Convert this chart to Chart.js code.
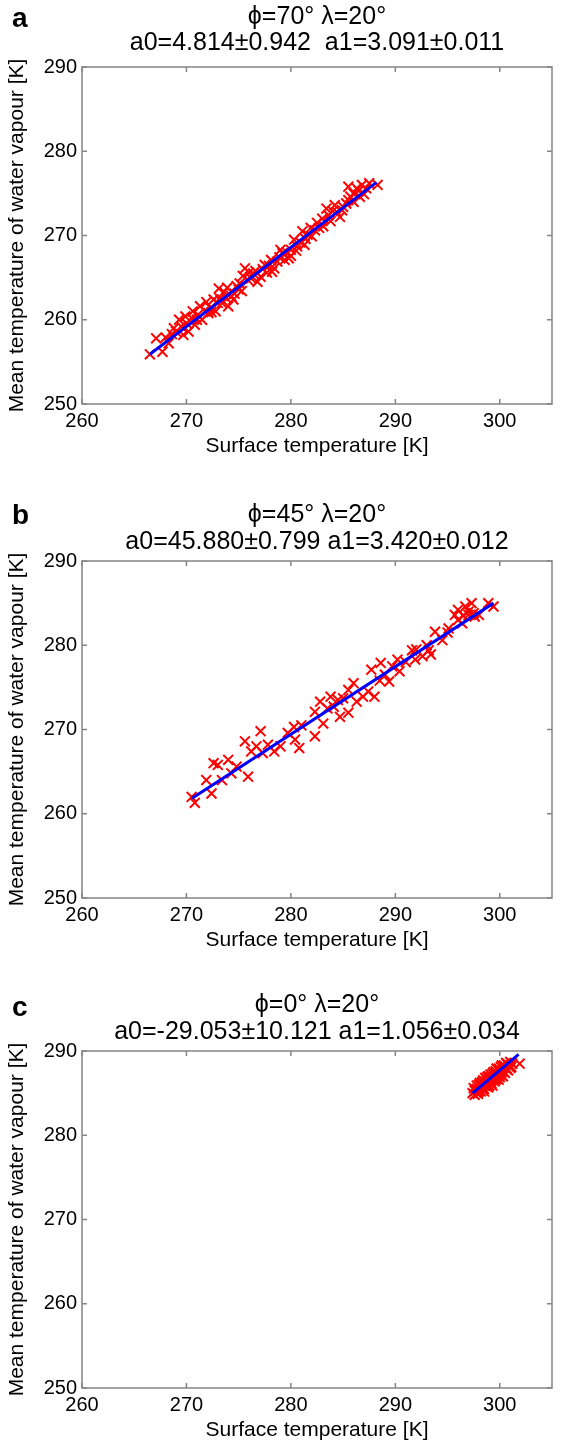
<!DOCTYPE html>
<html>
<head>
<meta charset="utf-8">
<script src="https://cdn.jsdelivr.net/npm/chart.js@4.4.1/dist/chart.umd.min.js"></script>
<style>
body { margin: 0; background: #fff; width: 561px; height: 1445px; position: relative; overflow: hidden; font-family: "Liberation Sans", Arial, sans-serif; }
.panel { position: absolute; left: 0; width: 561px; height: 459px; }
.tag { position: absolute; left: 12px; font-weight: bold; font-size: 28px; line-height: 1; color: #000; }
</style>
</head>
<body>
<div class="panel" style="top:0px"><canvas id="ca" width="561" height="459"></canvas><div class="tag" style="top:4px">a</div></div>
<div class="panel" style="top:494px"><canvas id="cb" width="561" height="459"></canvas><div class="tag" style="top:7px">b</div></div>
<div class="panel" style="top:984px"><canvas id="cc" width="561" height="459"></canvas><div class="tag" style="top:9px">c</div></div>
<script>
// axis setup shared by the three panels
const xTicks = [260, 270, 280, 290, 300];
const yTicks = [250, 260, 270, 280, 290];
const xTitle = 'Surface temperature [K]';
const yTitle = 'Mean temperature of water vapour [K]';

// panel a: phi=70
const aTitle = ['ϕ=70° λ=20°', 'a0=4.814±0.942  a1=3.091±0.011'];
const aSurf = [266.5, 267.1, 267.7, 268.3, 268.8, 269.0, 269.3, 269.7, 269.9, 270.2, 270.5, 270.8, 271.0, 271.3, 271.5, 271.8,
  272.1, 272.3, 272.6, 272.8, 273.1, 273.2, 273.4, 273.6, 273.8, 274.0, 274.3, 274.6, 274.8, 275.1, 275.3, 275.6,
  275.9, 276.0, 276.4, 276.6, 276.8, 277.1, 277.5, 277.7, 278.1, 278.4, 278.7, 279.0, 279.4, 279.6, 280.0, 280.0,
  280.3, 280.6, 280.9, 281.1, 281.3, 281.6, 282.0, 282.3, 282.5, 283.0, 283.1, 283.4, 283.8, 284.0, 284.4, 284.7,
  285.0, 285.3, 285.5, 285.5, 286.0, 286.0, 286.3, 286.6, 286.8, 287.0, 287.2, 288.3,
  268.0, 268.6, 269.5, 270.0, 270.6, 271.1, 271.9, 272.4, 273.0, 273.9, 274.5, 275.0, 275.4, 276.2, 277.3, 277.9,
  278.2, 278.9, 279.2, 279.8, 280.5, 281.4, 281.9, 282.7, 283.6, 284.2, 284.9, 285.7, 286.5, 287.5];
const aMean = [255.9, 257.8, 256.2, 257.2, 259.0, 258.6, 260.0, 258.2, 260.4, 258.6, 260.2, 259.4, 260.0, 261.6, 260.0, 261.0,
  260.8, 261.4, 262.4, 261.0, 263.7, 262.5, 262.0, 263.3, 262.6, 261.6, 262.8, 263.1, 264.0, 264.3, 263.4, 266.1,
  264.7, 265.6, 265.5, 265.8, 264.5, 265.1, 266.5, 265.6, 267.1, 266.1, 266.9, 268.3, 267.1, 268.0, 268.3, 267.6,
  269.5, 268.7, 269.2, 270.5, 268.9, 270.1, 269.9, 270.6, 271.5, 272.0, 271.1, 273.2, 271.7, 272.9, 272.8, 272.2,
  273.4, 273.8, 275.8, 274.2, 275.0, 274.0, 275.6, 274.6, 276.0, 274.9, 275.6, 276.0,
  257.9, 258.3, 259.2, 259.6, 261.0, 260.6, 262.1, 260.9, 262.0, 263.8, 262.4, 263.6, 265.2, 264.9, 266.0, 266.4,
  265.7, 267.4, 267.9, 267.3, 268.2, 269.6, 270.9, 270.9, 272.4, 273.6, 273.0, 274.6, 275.3, 276.2];
const aFitX = [266.5, 288.2];
const aFitY = [255.9, 276.3];

// panel b: phi=45
const bTitle = ['ϕ=45° λ=20°', 'a0=45.880±0.799 a1=3.420±0.012'];
const bSurf = [270.5, 270.8, 271.9, 272.4, 272.6, 273.0, 273.4, 274.0, 274.3, 274.8, 275.6, 275.9, 276.2, 276.7, 277.1, 277.3,
  277.8, 278.4, 279.0, 279.7, 280.3, 280.4, 280.8, 281.0, 282.3, 282.3, 282.8, 283.1, 283.5, 283.8, 284.1, 284.5,
  284.7, 285.0, 285.5, 285.5, 286.0, 286.3, 286.9, 287.4, 287.7, 288.0, 288.5, 288.6, 289.0, 289.4, 289.7, 290.2,
  290.4, 291.0, 291.6, 291.9, 292.0, 292.6, 293.0, 293.2, 293.4, 293.8, 294.5, 295.0, 295.1, 295.7, 296.0, 296.0,
  296.4, 296.5, 296.7, 297.0, 297.0, 297.3, 297.5, 297.6, 298.0, 298.9, 299.4];
const bMean = [262.0, 261.3, 264.0, 262.4, 266.0, 265.8, 264.0, 266.4, 264.8, 265.6, 268.6, 264.4, 267.4, 268.0, 269.8, 267.2,
  268.2, 267.4, 268.0, 269.6, 270.3, 268.8, 267.8, 270.5, 269.2, 272.1, 273.3, 270.7, 272.5, 273.9, 272.7, 273.5,
  271.5, 273.7, 274.7, 272.0, 275.5, 273.3, 273.9, 274.5, 277.1, 273.9, 275.8, 277.9, 276.5, 275.7, 277.5, 278.3,
  276.9, 278.0, 279.4, 278.3, 279.5, 278.7, 280.0, 279.4, 278.9, 281.6, 280.6, 281.5, 282.0, 283.6, 283.0, 284.2,
  282.6, 283.5, 284.6, 283.6, 284.0, 285.0, 283.8, 283.4, 283.6, 285.0, 284.6];
const bFitX = [270.5, 299.4];
const bFitY = [261.8, 285.0];

// panel c: phi=0
const cTitle = ['ϕ=0° λ=20°', 'a0=-29.053±10.121 a1=1.056±0.034'];
const cSurf = [297.4, 297.5, 297.6, 297.7, 297.8, 297.9, 298.0, 298.1, 298.2, 298.3, 298.4, 298.5, 298.5, 298.6, 298.7, 298.8,
  298.9, 299.0, 299.0, 299.1, 299.2, 299.3, 299.4, 299.5, 299.5, 299.6, 299.7, 299.8, 299.9, 300.0, 300.0, 300.1,
  300.2, 300.3, 300.4, 300.5, 300.6, 300.7, 300.8, 300.9, 301.0, 301.1, 301.2, 301.9,
  297.6, 297.8, 298.0, 298.0, 298.2, 298.3, 298.4, 298.6, 298.6, 298.8, 298.8, 299.0, 299.1, 299.2, 299.3, 299.4,
  299.6, 299.6, 299.7, 299.8, 300.0, 300.0, 300.2, 300.2, 300.4, 300.5, 300.6, 300.7, 300.8, 301.0, 298.9, 299.3,
  299.9, 300.3, 297.9, 298.5];
const cMean = [285.0, 285.6, 284.8, 285.3, 285.9, 285.1, 285.6, 286.2, 285.2, 285.8, 286.5, 285.5, 286.1, 286.8, 285.8, 286.4,
  287.0, 285.9, 286.6, 287.2, 286.2, 286.8, 287.5, 286.4, 287.0, 287.6, 286.7, 287.3, 287.9, 286.9, 287.5, 288.1,
  287.1, 287.7, 288.3, 287.4, 288.0, 288.5, 287.7, 288.2, 288.7, 288.1, 288.5, 288.5,
  285.3, 285.5, 285.2, 286.0, 285.9, 286.3, 285.6, 285.9, 286.4, 286.9, 285.9, 286.3, 286.9, 286.5, 287.3, 286.6,
  286.6, 287.3, 287.9, 287.0, 287.2, 287.8, 287.5, 288.3, 287.5, 288.0, 288.6, 287.8, 288.3, 288.0, 285.7, 285.9,
  286.6, 287.0, 284.9, 285.2];
const cFitX = [297.4, 301.8];
const cFitY = [285.0, 289.6];

// title line placement per panel (top panel sits tighter to the page edge)
const aTitlePad = { top: 4, bottom: 11 };
const bTitlePad = { top: 7, bottom: 5 };

Chart.defaults.font.family = '"Liberation Sans", Arial, sans-serif';
Chart.defaults.color = '#000';

const pairs = (xs, ys) => xs.map((v, i) => ({ x: v, y: ys[i] }));

// matlab style box with inward ticks, title centred over the axes
const boxPlugin = {
  id: 'box',
  afterLayout(chart) {
    chart.titleBlock.left = chart.chartArea.left;
    chart.titleBlock.right = chart.chartArea.right;
  },
  afterDraw(chart) {
    const { ctx, chartArea: a, scales } = chart;
    ctx.save();
    ctx.strokeStyle = '#858585';
    ctx.lineWidth = 1.5;
    ctx.strokeRect(a.left, a.top, a.right - a.left, a.bottom - a.top);
    ctx.beginPath();
    xTicks.forEach(v => {
      const p = scales.x.getPixelForValue(v);
      ctx.moveTo(p, a.bottom); ctx.lineTo(p, a.bottom - 5);
      ctx.moveTo(p, a.top); ctx.lineTo(p, a.top + 5);
    });
    yTicks.forEach(v => {
      const p = scales.y.getPixelForValue(v);
      ctx.moveTo(a.left, p); ctx.lineTo(a.left + 5, p);
      ctx.moveTo(a.right, p); ctx.lineTo(a.right - 5, p);
    });
    ctx.stroke();
    ctx.restore();
  }
};

function makePanel(id, title, xs, ys, fitX, fitY, pad, lh) {
  new Chart(document.getElementById(id), {
    type: 'scatter',
    data: {
      datasets: [
        {
          data: pairs(fitX, fitY),
          showLine: true,
          borderColor: '#0000ff',
          borderWidth: 3,
          pointRadius: 0,
          order: 0
        },
        {
          data: pairs(xs, ys),
          pointStyle: 'crossRot',
          pointRadius: 7,
          borderColor: '#ff0000',
          borderWidth: 2,
          backgroundColor: '#ff0000',
          order: 1
        }
      ]
    },
    options: {
      responsive: false,
      animation: false,
      devicePixelRatio: 1,
      layout: { padding: { left: 0, right: 3, top: 0, bottom: 0 } },
      plugins: {
        legend: { display: false },
        tooltip: { enabled: false },
        title: {
          display: true,
          text: title,
          color: '#000',
          font: { size: 25, weight: 'normal', lineHeight: lh },
          padding: pad
        }
      },
      scales: {
        x: {
          type: 'linear',
          min: 260,
          max: 305,
          afterBuildTicks: s => { s.ticks = xTicks.map(v => ({ value: v })); },
          afterFit: s => { s.height = 55; },
          grid: { display: false, drawTicks: false },
          border: { display: false },
          ticks: { font: { size: 20 }, color: '#000', padding: 5, maxRotation: 0 },
          title: { display: true, text: xTitle, font: { size: 21, lineHeight: 1.2 }, color: '#000', padding: { top: 0, bottom: 0 } }
        },
        y: {
          type: 'linear',
          min: 250,
          max: 290,
          afterBuildTicks: s => { s.ticks = yTicks.map(v => ({ value: v })); },
          afterFit: s => { s.width = 82; },
          grid: { display: false, drawTicks: false },
          border: { display: false },
          ticks: { font: { size: 20 }, color: '#000', padding: 5 },
          title: { display: true, text: yTitle, font: { size: 21, lineHeight: 1.2 }, color: '#000', padding: { top: 5, bottom: 0 } }
        }
      }
    },
    plugins: [boxPlugin]
  });
}

makePanel('ca', aTitle, aSurf, aMean, aFitX, aFitY, aTitlePad, 1.04);
makePanel('cb', bTitle, bSurf, bMean, bFitX, bFitY, bTitlePad, 1.1);
makePanel('cc', cTitle, cSurf, cMean, cFitX, cFitY, bTitlePad, 1.1);
</script>
</body>
</html>
